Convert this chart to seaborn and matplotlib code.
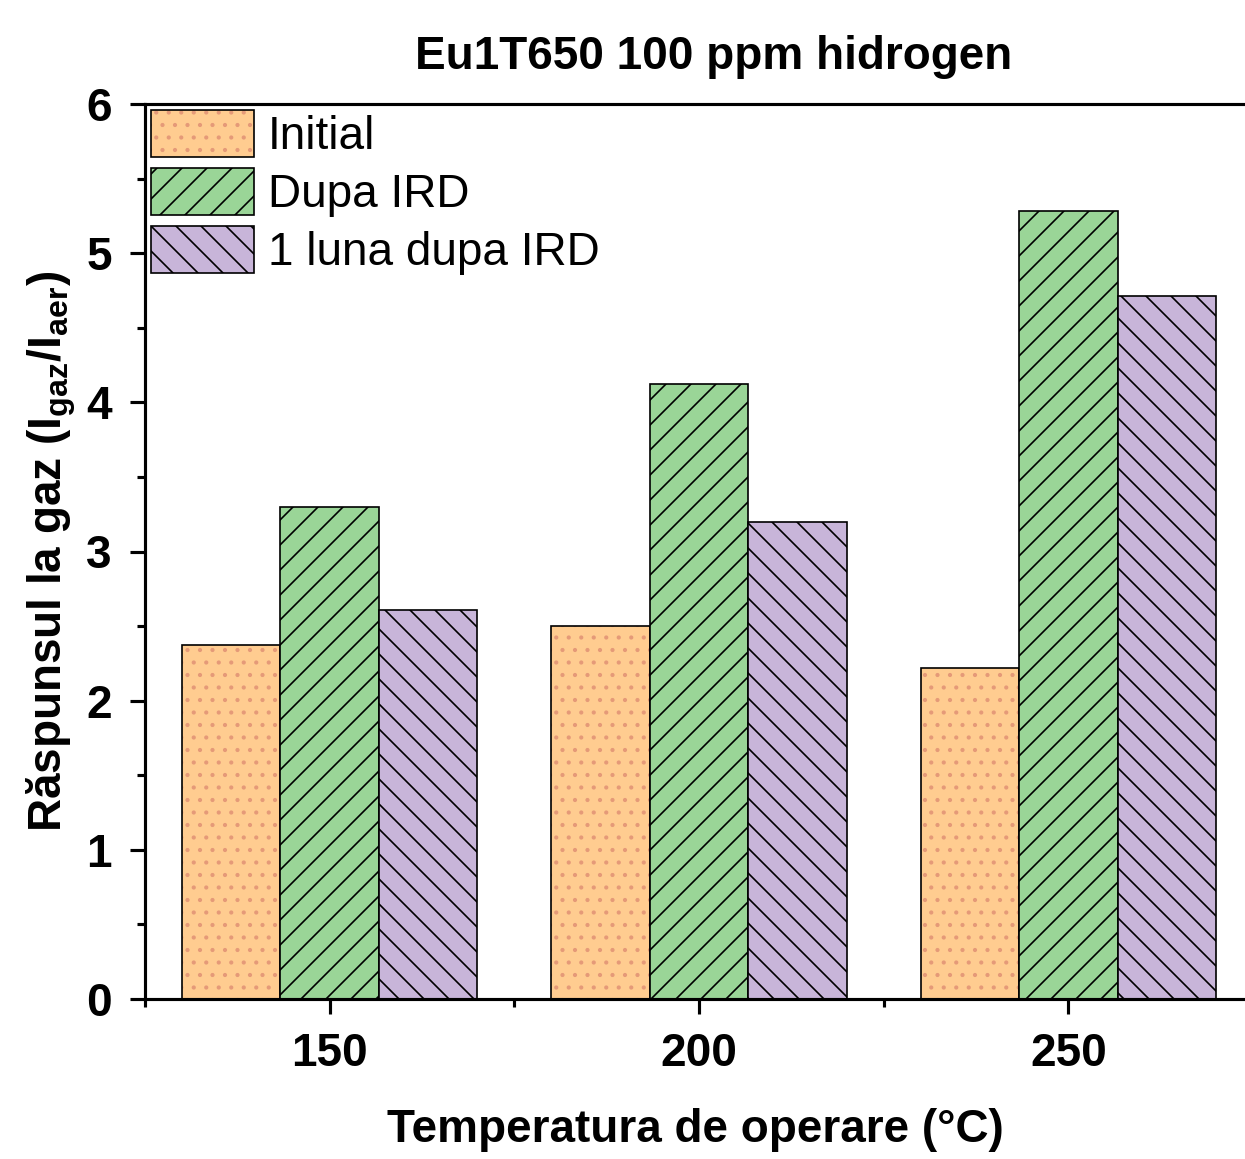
import numpy as np, matplotlib
matplotlib.use("Agg")
import matplotlib.pyplot as plt; import seaborn as sns
import pandas as pd
from matplotlib.colors import to_rgba

# ── data ──
temps = ["150", "200", "250"]
series = ["Initial", "Dupa IRD", "1 luna dupa IRD"]
initial = [2.37, 2.50, 2.22]
dupa_ird = [3.30, 4.12, 5.28]
luna_dupa = [2.61, 3.20, 4.71]
colors = ["#FFCC90", "#9AD597", "#C8B5D9"]
hatches = ["..", "//", "\\\\"]

df = pd.DataFrame({
    "temp": temps * 3,
    "serie": [s for s in series for _ in temps],
    "val": initial + dupa_ird + luna_dupa,
})

sns.set_style("ticks")
plt.rcParams["font.family"] = ["Liberation Sans", "DejaVu Sans"]
plt.rcParams["mathtext.fontset"] = "custom"
plt.rcParams["mathtext.rm"] = "Liberation Sans:bold"
plt.rcParams["mathtext.it"] = "Liberation Sans:bold"
plt.rcParams["mathtext.bf"] = "Liberation Sans:bold"
plt.rcParams["mathtext.default"] = "rm"
plt.rcParams["hatch.linewidth"] = 0.8
for k in ["text.color", "axes.labelcolor", "xtick.color", "ytick.color", "axes.edgecolor"]:
    plt.rcParams[k] = "black"

fig = plt.figure(figsize=(1245/150, 1159/150), dpi=150)
ax = fig.add_axes([145/1245, 160/1159, 1.0 - 145/1245, (999-104)/1159])

sns.barplot(data=df, x="temp", y="val", hue="serie", order=temps, hue_order=series,
            palette=colors, saturation=1, width=0.8, edgecolor="black", linewidth=0.8, ax=ax)

for cont, h in zip(ax.containers, hatches):
    for p in cont.patches:
        p.set_hatch(h)
        if h == "..":
            p._hatch_color = to_rgba("#E59A78")

if ax.get_legend() is not None:
    ax.get_legend().remove()
handles = [cont.patches[0] for cont in ax.containers]
ax.legend(handles, series, loc="upper left", bbox_to_anchor=(0.0, 1.0), frameon=False,
          fontsize=22, handlelength=2.25, handleheight=1.2, handletextpad=0.3,
          labelspacing=0.2, borderpad=0.08, borderaxespad=0.05)

ax.set_xlim(-0.495, 2.478)
ax.set_ylim(0, 6)
ax.set_yticks(np.arange(0, 7, 1))
ax.set_yticks(np.arange(0.5, 6, 1), minor=True)
ax.set_xticks([-0.5, 0.5, 1.5], minor=True)

for s in ["left", "bottom", "top"]:
    ax.spines[s].set_linewidth(1.5)
    ax.spines[s].set_visible(True)
ax.spines["right"].set_visible(False)

ax.tick_params(axis="both", which="major", direction="out", length=7, width=1.5,
               labelsize=22, pad=9)
ax.tick_params(axis="both", which="minor", direction="out", length=4, width=1.5)
ax.tick_params(top=False, right=False, which="both")
for lab in ax.get_xticklabels() + ax.get_yticklabels():
    lab.set_fontweight("bold")

ax.set_xlabel("Temperatura de operare (°C)", fontsize=22, fontweight="bold", labelpad=15)
ax.set_ylabel("Răspunsul la gaz (I$_{gaz}$/I$_{aer}$)", fontsize=22, fontweight="bold", labelpad=4)
fig.text(0.573, 1 - 57/1159, "Eu1T650 100 ppm hidrogen", fontsize=22, fontweight="bold",
         ha="center", va="center")

fig.savefig("out.png", dpi=150)
